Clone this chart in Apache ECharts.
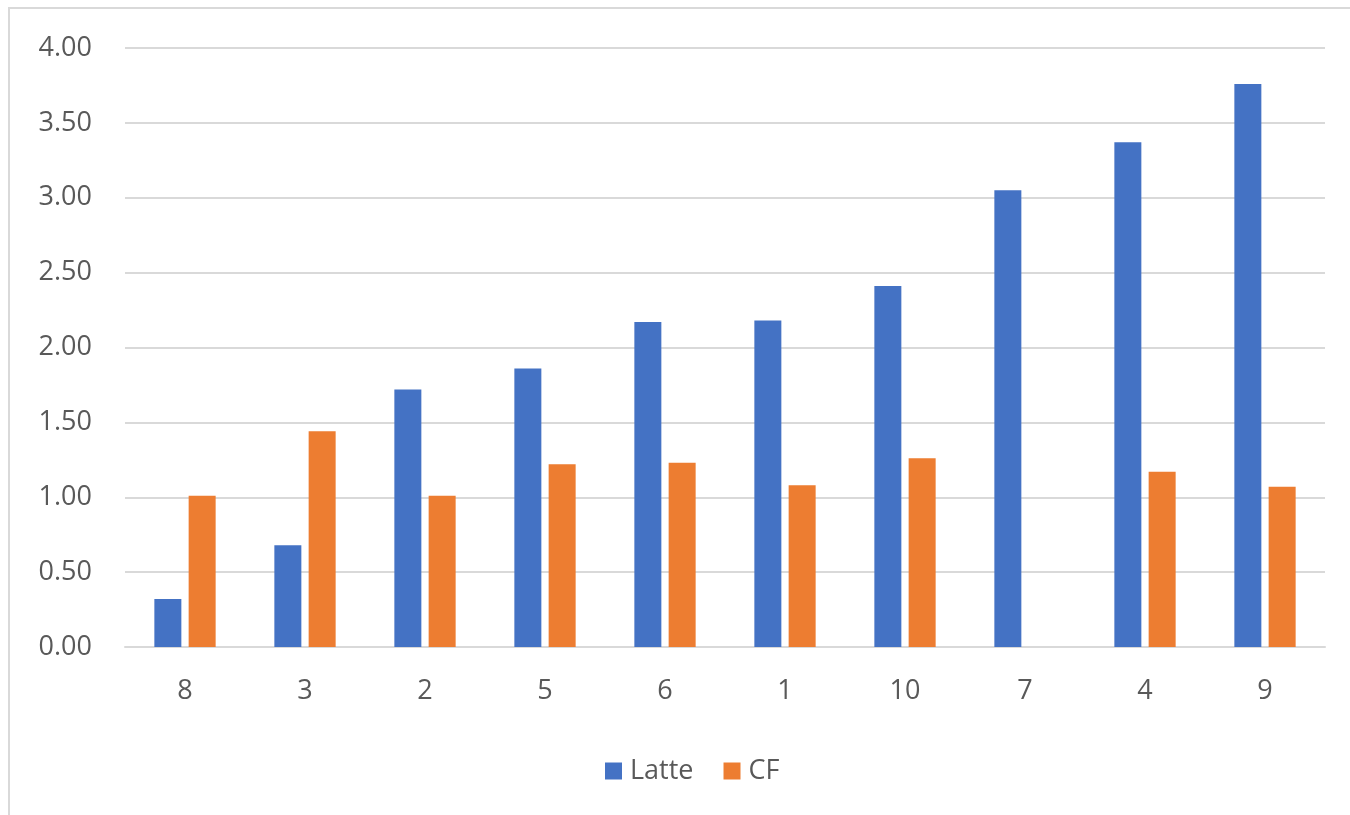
<!DOCTYPE html>
<html><head><meta charset="utf-8">
<script src="https://cdn.jsdelivr.net/npm/echarts@6/dist/echarts.min.js"></script>
<style>html,body{margin:0;padding:0;background:#fff}#c{width:1350px;height:815px}</style>
</head><body><div id="c"></div>
<script>
const categories = ['8','3','2','5','6','1','10','7','4','9'];
const latte = [0.32, 0.68, 1.72, 1.86, 2.17, 2.18, 2.41, 3.05, 3.37, 3.76];
const cf = [1.01, 1.44, 1.01, 1.22, 1.23, 1.08, 1.26, null, 1.17, 1.07];
const seriesNames = ['Latte', 'CF'];
const yTicks = {min: 0, max: 4, interval: 0.5};

const chart = echarts.init(document.getElementById('c'), null, {renderer: 'canvas'});
const font = '"Open Sans", "Noto Sans", sans-serif';
chart.setOption({
  animation: false,
  graphic: [{type: 'rect', shape: {x: 9, y: 8, width: 1360, height: 830}, style: {fill: 'none', stroke: '#d9d9d9', lineWidth: 2}, silent: true}],
  grid: {left: 125, right: 25, top: 48, bottom: 168, containLabel: false},
  legend: {
    data: seriesNames, top: 752, left: 600, itemWidth: 17, itemHeight: 17, itemGap: 30,
    icon: 'rect', textStyle: {color: '#595959', fontSize: 27, lineHeight: 28, fontFamily: font, padding: [0, 0, 0, 3]}
  },
  xAxis: {
    type: 'category', data: categories,
    axisLine: {show: true, lineStyle: {color: '#d9d9d9', width: 2}},
    axisTick: {show: false},
    axisLabel: {color: '#595959', fontSize: 27, lineHeight: 28, fontFamily: font, margin: 30}
  },
  yAxis: {
    type: 'value', min: yTicks.min, max: yTicks.max, interval: yTicks.interval,
    axisLine: {show: false}, axisTick: {show: false},
    splitLine: {lineStyle: {color: '#d9d9d9', width: 2}},
    axisLabel: {color: '#595959', fontSize: 27, fontFamily: font, margin: 33, formatter: v => v.toFixed(2)}
  },
  series: [
    {name: seriesNames[0], type: 'bar', data: latte, barWidth: '22.5%', barGap: '27%', itemStyle: {color: '#4472C4'}},
    {name: seriesNames[1], type: 'bar', data: cf, barWidth: '22.5%', barGap: '27%', itemStyle: {color: '#ED7D31'}}
  ]
});
</script></body></html>
